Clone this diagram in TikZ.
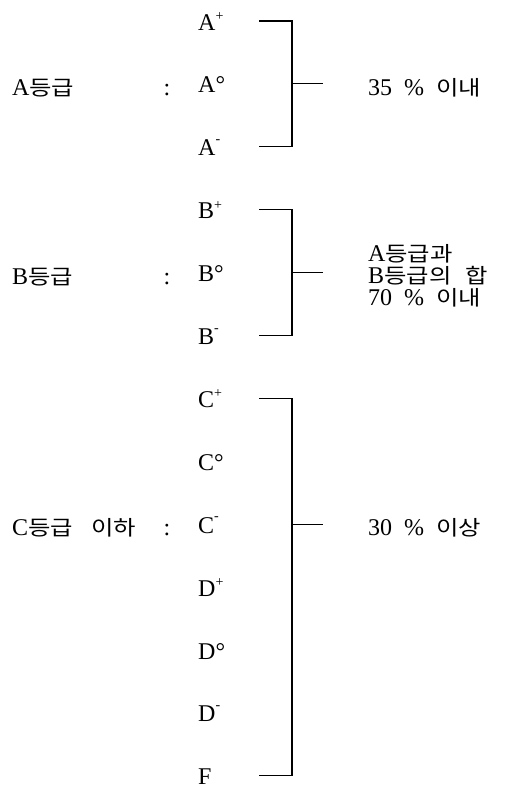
\documentclass[tikz,border=0pt]{standalone}
\usepackage{fontspec}
\setmainfont{Liberation Serif}
\newfontfamily\krfont{Noto Sans CJK KR}[Scale=0.86, FakeStretch=1.18]
\newcommand{\kr}[1]{{\krfont #1}}
\newcommand{\gplus}{\raisebox{0.4em}{\fontsize{14}{14}\selectfont +}}
\newcommand{\gzero}{°}
\newcommand{\gminus}{\raisebox{0.52em}{\fontsize{14}{14}\selectfont -}}

\begin{document}
\begin{tikzpicture}[x=1pt,y=1pt]

    % Stijlen voor tekst en haken
    \tikzset{
        grade/.style={anchor=base west, inner sep=0pt, font=\fontsize{24}{28}\selectfont},
        colon/.style={anchor=base, inner sep=0pt, font=\fontsize{24}{28}\selectfont},
        bracket/.style={line width=1.1pt}
    }

    \useasboundingbox (0,0) rectangle (504,-787);

    % --- GRADEN ---
    \foreach \name/\txt [count=\i from 0] in {ap/A\gplus, az/A\gzero, am/A\gminus,
        bp/B\gplus, bz/B\gzero, bm/B\gminus, cp/C\gplus, cz/C\gzero, cm/C\gminus,
        dp/D\gplus, dz/D\gzero, dm/D\gminus, f/F} {
        \coordinate (r\name) at (259, {-21-62.9*\i});
        \node[grade] (\name) at (198, {-30-62.9*\i}) {\txt};
    }

    % hulppunten voor de haken
    \coordinate (sp) at (292, 0);
    \coordinate (tp) at (323, 0);

    % --- LINKER LABELS ---
    \node[grade] (la) at (12, -95) {A\kr{등급}};
    \node[colon] (ca) at (167, -95) {:};
    \node[grade] (lb) at (12, -284) {B\kr{등급}};
    \node[colon] (cb) at (167, -284) {:};
    \node[grade] (lc) at (12, -535) {C\kr{등급}\hspace{18pt}\kr{이하}};
    \node[colon] (cc) at (167, -535) {:};

    % --- HAKEN ---
    \draw[bracket] (rap) -- (rap -| sp) -- (ram -| sp) -- (ram);
    \draw[bracket] (raz -| sp) -- (raz -| tp);
    \draw[bracket] (rbp) -- (rbp -| sp) -- (rbm -| sp) -- (rbm);
    \draw[bracket] (rbz -| sp) -- (rbz -| tp);
    \draw[bracket] (rcp) -- (rcp -| sp) -- (rf -| sp) -- (rf);
    \draw[bracket] (rcm -| sp) -- (rcm -| tp);

    % --- RECHTER TEKSTEN ---
    \node[grade] (ta) at (368, -95) {35\ \ \%\ \ \kr{이내}};
    % de basislijn van een node met align ligt op de laatste regel
    \node[grade, align=left, font=\fontsize{24}{21.8}\selectfont] (tb) at (368, -305)
        {A\kr{등급과}\\B\kr{등급의}\hspace{14pt}\kr{합}\\70\ \ \%\ \ \kr{이내}};
    \node[grade] (tc) at (368, -535) {30\ \ \%\ \ \kr{이상}};

\end{tikzpicture}
\end{document}
